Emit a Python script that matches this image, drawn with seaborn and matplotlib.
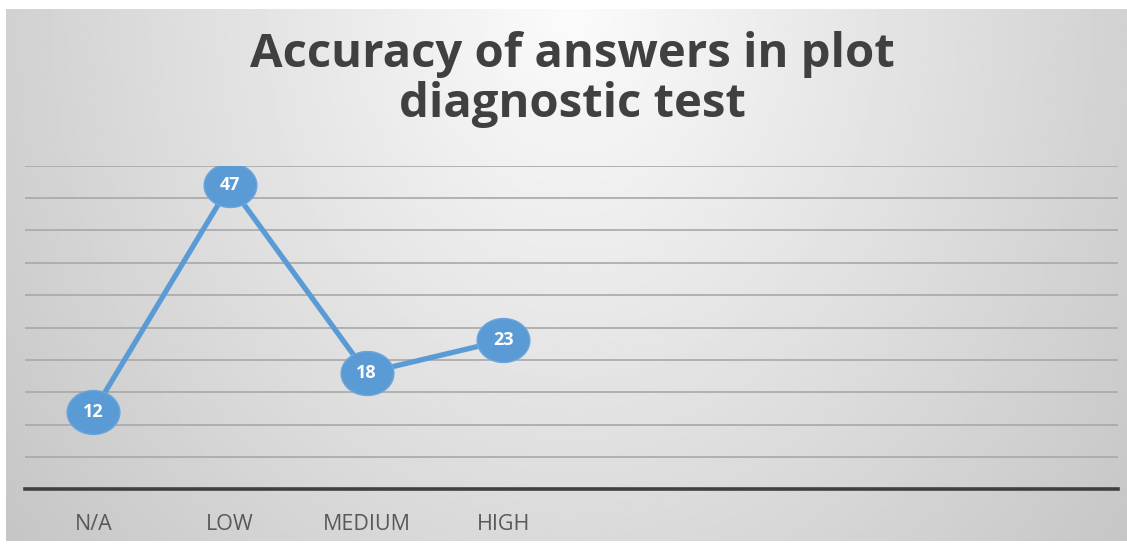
import numpy as np
import pandas as pd
import matplotlib
matplotlib.use("Agg")
import matplotlib.pyplot as plt
from matplotlib.path import Path
import seaborn as sns

categories = ["N/A", "LOW", "MEDIUM", "HIGH", "", " ", "  ", "   "]
values = [12, 47, 18, 23, None, None, None, None]
title_lines = ["Accuracy of answers in plot", "diagnostic test"]

sns.set_theme(style="white")
plt.rcParams['font.family'] = ['Open Sans', 'DejaVu Sans']

W, H = 1127, 544
fig = plt.figure(figsize=(W / 100, H / 100), dpi=100, facecolor="white")

# gradient background panel
bg = fig.add_axes([6 / W, 3 / H, 1121 / W, 532 / H], zorder=0)
xs = np.linspace(0, 1, 400)
ys = np.linspace(0, 1, 200)
X, Y = np.meshgrid(xs, ys)
dx = (X - 0.505) / 0.5
dy = Y
d = np.sqrt((dx * 0.95) ** 2 + (dy * 0.75) ** 2)
v = 251 - 44 * d
v = np.clip(v, 180, 252) / 255.0
bg.imshow(v, cmap="gray", vmin=0, vmax=1, aspect="auto", extent=[0, 1, 1, 0], interpolation="bilinear")
bg.set_axis_off()

ax = fig.add_axes([25 / W, (H - 489.3) / H, (1118 - 25) / W, (489.3 - 165.7) / H], zorder=1)
ax.patch.set_alpha(0)

df = pd.DataFrame({"cat": categories, "val": values})
df["x"] = np.arange(len(categories))

# elliptical marker (wider than tall)
t = np.linspace(0, 2 * np.pi, 60)
ell = Path(np.column_stack([1.2 * np.cos(t), np.sin(t)]), closed=True)

line_color = "#5B9BD5"
sns.lineplot(data=df.dropna(), x="x", y="val", ax=ax, color=line_color, linewidth=3.8,
             marker=ell, markersize=38, markeredgecolor="#6aa6dc", markeredgewidth=1.0,
             markerfacecolor=line_color, zorder=3)

for xi, yi in zip(df["x"], df["val"]):
    if yi is None or (isinstance(yi, float) and np.isnan(yi)):
        continue
    ax.text(xi, yi, f"{int(yi)}", ha="center", va="center", color="white",
            fontsize=13, fontweight="bold", zorder=4)

ax.set_xlim(-0.5, len(categories) - 0.5)
ax.set_ylim(0, 50)
ax.set_yticks(np.arange(5, 51, 5))
ax.yaxis.grid(True, color="#a8a8a8", linewidth=1.2)
ax.set_axisbelow(True)
ax.set_yticklabels([])
ax.tick_params(axis="y", length=0)
ax.set_xticks(df["x"])
ax.set_xticklabels(categories, fontsize=15.5, color="#595959")
ax.tick_params(axis="x", length=0, pad=18)
for s in ["left", "right", "top"]:
    ax.spines[s].set_visible(False)
ax.spines["bottom"].set_color("#404040")
ax.spines["bottom"].set_linewidth(2.6)
ax.set_xlabel("")
ax.set_ylabel("")

fig.text(572 / W, 1 - 55 / H, title_lines[0], ha="center", va="center",
         fontsize=34, fontweight="bold", color="#404040")
fig.text(572 / W, 1 - 105 / H, title_lines[1], ha="center", va="center",
         fontsize=34, fontweight="bold", color="#404040")

fig.savefig("out.png", dpi=100, facecolor="white")
